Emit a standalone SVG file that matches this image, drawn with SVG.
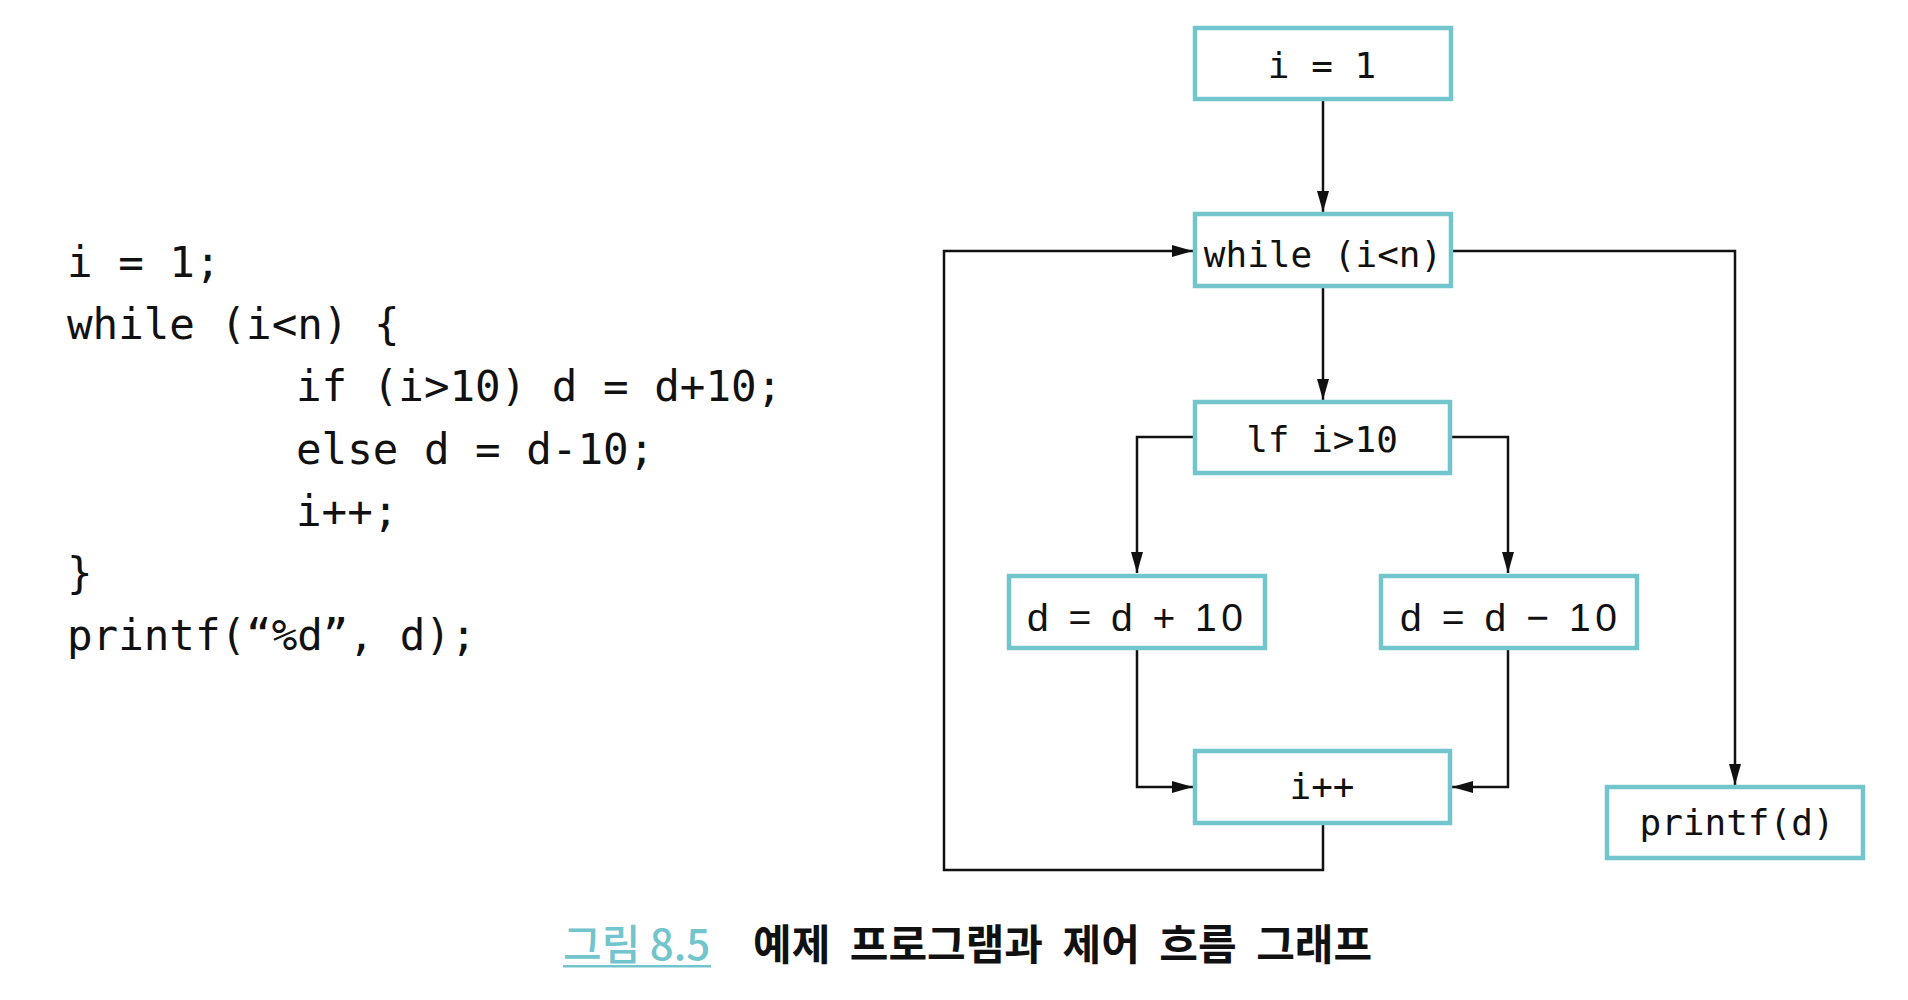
<svg xmlns="http://www.w3.org/2000/svg" width="1908" height="1000" viewBox="0 0 1908 1000">
<style>
.code{font-family:"DejaVu Sans Mono","Liberation Mono",monospace;font-size:42.5px;fill:#111}
.box{fill:#fff;stroke:#72C5CC;stroke-width:4.5}
.mono{font-family:"DejaVu Sans Mono","Liberation Mono",monospace;font-size:36px;fill:#111;text-anchor:middle}
.sans{font-family:"Liberation Sans",Arial,sans-serif;font-size:39px;fill:#111}
.edge{fill:none;stroke:#111;stroke-width:2.5}
.cap{font-family:"Noto Sans CJK KR","Noto Sans",sans-serif;font-size:42px}
</style>
<defs>
<marker id="arr" markerUnits="userSpaceOnUse" markerWidth="22" markerHeight="12" refX="21" refY="6" orient="auto">
<path d="M0,0 L21,6 L0,12 z" fill="#111"/>
</marker>
</defs>
<rect width="1908" height="1000" fill="#fff"/>
<g id="code">
<text class="code" x="67" y="277">i = 1;</text>
<text class="code" x="67" y="339">while (i&lt;n) {</text>
<text class="code" x="296" y="401">if (i&gt;10) d = d+10;</text>
<text class="code" x="296" y="464">else d = d-10;</text>
<text class="code" x="296" y="526">i++;</text>
<text class="code" x="67" y="588">}</text>
<text class="code" x="67" y="650">printf(“%d”, d);</text>
</g>
<g id="connectors">
<path class="edge" d="M1323,101 V212" marker-end="url(#arr)"/>
<path class="edge" d="M1323,288 V400" marker-end="url(#arr)"/>
<path class="edge" d="M1193,437 H1137 V573" marker-end="url(#arr)"/>
<path class="edge" d="M1452,437 H1508 V573" marker-end="url(#arr)"/>
<path class="edge" d="M1137,650 V787 H1193" marker-end="url(#arr)"/>
<path class="edge" d="M1508,650 V787 H1452" marker-end="url(#arr)"/>
<path class="edge" d="M1323,825 V870 H944 V251 H1193" marker-end="url(#arr)"/>
<path class="edge" d="M1453,251 H1735 V785" marker-end="url(#arr)"/>
</g>
<g id="n_init">
<rect class="box" x="1195" y="28" width="256" height="71"/>
<text class="mono" x="1322" y="78">i = 1</text>
</g>
<g id="n_while">
<rect class="box" x="1195" y="214" width="256" height="72"/>
<text class="mono" x="1323" y="267">while (i&lt;n)</text>
</g>
<g id="n_if">
<rect class="box" x="1195" y="402" width="255" height="71"/>
<text class="mono" x="1322" y="452">lf i&gt;10</text>
</g>
<g id="n_plus">
<rect class="box" x="1009" y="576" width="256" height="72"/>
<text class="sans" x="1027" y="631" textLength="216" lengthAdjust="spacing">d = d + 10</text>
</g>
<g id="n_minus">
<rect class="box" x="1381" y="576" width="256" height="72"/>
<text class="sans" x="1400" y="631" textLength="217" lengthAdjust="spacing">d = d − 10</text>
</g>
<g id="n_inc">
<rect class="box" x="1195" y="751" width="255" height="72"/>
<text class="mono" x="1322" y="799">i++</text>
</g>
<g id="n_printf">
<rect class="box" x="1607" y="787" width="256" height="71"/>
<text class="mono" x="1737" y="835">printf(d)</text>
</g>
<g id="caption">
<text class="cap" x="563" y="960" fill="#72C5CC" font-weight="500">그림 8.5</text>
<rect x="563" y="965" width="148" height="2.5" fill="#72C5CC"/>
<text class="cap" x="753" y="960" fill="#111" font-weight="bold" word-spacing="10">예제 프로그램과 제어 흐름 그래프</text>
</g>
</svg>
